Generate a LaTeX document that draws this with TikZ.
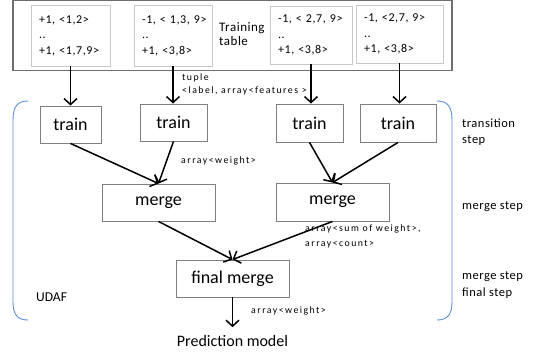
\documentclass[tikz,border=0pt]{standalone}
\usepackage{fontspec}
\setmainfont{Carlito}
\newfontfamily\lblfont[LetterSpace=15]{Carlito}
\newfontfamily\datafont[LetterSpace=5]{Carlito}
\newfontfamily\sidefont[LetterSpace=4]{Carlito}
\usetikzlibrary{arrows.meta}
\definecolor{boxgray}{HTML}{7F7F7F}
\definecolor{lightgray}{HTML}{C8C8C8}
\definecolor{outergray}{HTML}{6E6E6E}
\definecolor{bracketblue}{HTML}{5B8FD0}
\tikzset{
  outerbox/.style={draw=outergray, line width=1.1pt, inner sep=0pt},
  databox/.style={draw=lightgray, line width=0.7pt, inner xsep=8pt, inner ysep=0pt,
    align=left, font=\datafont\fontsize{12}{15.5}\selectfont, anchor=center},
  procbox/.style={draw=boxgray, line width=0.9pt, inner sep=0pt,
    font=\fontsize{18}{20}\selectfont},
  flow/.style={line width=1.5pt, -{Straight Barb[length=6pt,width=13pt]}},
  lbl/.style={anchor=west, inner sep=0pt, font=\lblfont\fontsize{9.8}{11}\selectfont},
  sidelbl/.style={anchor=west, inner sep=0pt, font=\sidefont\fontsize{12.5}{15}\selectfont},
  bracket/.style={draw=bracketblue, line width=0.9pt}
}
\begin{document}
\begin{tikzpicture}[x=1pt,y=-1pt]
\useasboundingbox (0,0) rectangle (538,356);
% training table
\node (tbl) [outerbox, minimum width=439pt, minimum height=70pt] at (232.5,35.5) {};
\node (b1) [databox, text width=63pt, minimum height=61pt] at (70.5,35.5) {\mbox{+1, <1,2>}\\..\\\mbox{+1, <1,7,9>}};
\node (b2) [databox, text width=62pt, minimum height=61pt] at (173,35.5) {\mbox{-1, < 1,3, 9>}\\..\\\mbox{+1, <3,8>}};
\node (b3) [databox, text width=66pt, minimum height=58pt] at (311,35) {\mbox{-1, < 2,7, 9>}\\..\\\mbox{+1, <3,8>}};
\node (b4) [databox, text width=71pt, minimum height=58pt] at (399.5,34) {\mbox{-1, <2,7, 9>}\\..\\\mbox{+1, <3,8>}};
\node (tt1) [sidelbl, font=\sidefont\fontsize{13}{15}\selectfont] at (219,28) {Training};
\node (tt2) [sidelbl, font=\sidefont\fontsize{13}{15}\selectfont] at (219,41) {table};
% train boxes
\node (t1) [procbox, minimum width=61pt, minimum height=37pt] at (70.5,124.5) {train};
\node (t2) [procbox, minimum width=67pt, minimum height=37pt] at (173.5,122.5) {train};
\node (t3) [procbox, minimum width=67pt, minimum height=38pt] at (309.5,123) {train};
\node (t4) [procbox, minimum width=76pt, minimum height=38pt] at (398,123) {train};
% merge boxes
\node (m1) [procbox, minimum width=113pt, minimum height=37pt] at (158.5,202.5) {merge};
\node (m2) [procbox, minimum width=113pt, minimum height=38pt] at (332.5,202) {merge};
\node (f) [procbox, minimum width=113pt, minimum height=37pt] at (232.5,278.5) {final merge};
\node (pm) [anchor=base, inner xsep=0pt, inner ysep=7.5pt, font=\fontsize{16}{18}\selectfont] at (232.5,346) {Prediction model};
% connectors
\draw[flow] (b1.south) -- (b1.south |- t1.north);
\draw[flow] (b2.south) -- (b2.south |- t2.north);
\draw[flow] (b3.south) -- (b3.south |- t3.north);
\draw[flow] (b4.south) -- (b4.south |- t4.north);
\draw[flow] (t1.south) -- (m1.north);
\draw[flow] (t2.south) -- (m1.north);
\draw[flow] (t3.south) -- (m2.north);
\draw[flow] (t4.south) -- (m2.north);
\draw[flow] (m1.south) -- (f.north);
\draw[flow] (m2.south) -- (f.north);
\draw[flow] (f.south) -- (pm.north);
% labels
\node (l1) [lbl] at (182,78) {tuple};
\node (l2) [lbl] at (182,91) {<label, array<features >};
\node (l3) [lbl] at (181,161) {array<weight>};
\node (l4) [lbl] at (305,229) {array<sum of weight>,};
\node (l5) [lbl] at (305,244) {array<count>};
\node (l6) [lbl] at (251,311) {array<weight>};
% side labels
\node (s1) [sidelbl] at (462,123) {transition};
\node (s2) [sidelbl] at (462,141) {step};
\node (s3) [sidelbl] at (462,207) {merge step};
\node (s4) [sidelbl] at (462,277) {merge step};
\node (s5) [sidelbl] at (462,293) {final step};
\node (udaf) [sidelbl, font=\fontsize{13.5}{15}\selectfont] at (36,297) {UDAF};
% brackets
\draw[bracket] (28,101) .. controls (18,101) and (13,106) .. (13,120) -- (13,302) .. controls (13,315) and (18,320) .. (28,320);
\draw[bracket] (437,101) .. controls (447,101) and (452,106) .. (452,120) -- (452,302) .. controls (452,315) and (447,320) .. (437,320);
\end{tikzpicture}
\end{document}
